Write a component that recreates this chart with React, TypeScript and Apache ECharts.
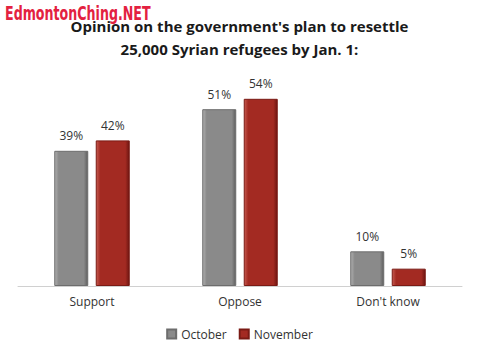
import React, { useEffect, useRef } from "react";
import * as echarts from "echarts";

const categories = ["Support", "Oppose", "Don't know"];
const october = [39, 51, 10];
const november = [42, 54, 5];
const seriesNames = ["October", "November"];
const titleLines = ["Opinion on the government's plan to resettle", "25,000 Syrian refugees by Jan. 1:"];
const watermark = "EdmontonChing.NET";

function bevel(base: string, light: string, dark: string) {
  return new echarts.graphic.LinearGradient(0, 0, 1, 0, [
    { offset: 0, color: light },
    { offset: 0.12, color: base },
    { offset: 0.88, color: base },
    { offset: 1, color: dark },
  ]);
}

export default function App() {
  const ref = useRef<HTMLDivElement>(null);
  useEffect(() => {
    if (!ref.current) return;
    const chart = echarts.init(ref.current, undefined, { renderer: "svg" });
    const font = "'Open Sans', 'Noto Sans', sans-serif";
    chart.setOption({
      animation: false,
      backgroundColor: "#ffffff",
      title: {
        text: titleLines.join("\n"),
        left: "center",
        top: 9,
        textStyle: { fontFamily: font, fontWeight: "bold", fontSize: 15, color: "#1a1a1a", lineHeight: 23 },
      },
      graphic: [
        {
          type: "text",
          x: 5,
          y: 4,
          scaleX: 0.74,
          style: {
            text: watermark,
            fontFamily: "'DejaVu Sans Condensed', 'DejaVu Sans', sans-serif",
            fontWeight: "bold",
            fontSize: 19,
            fill: "#e3213f",
          },
        },
      ],
      legend: {
        bottom: 15,
        left: "center",
        itemWidth: 9,
        itemHeight: 9,
        itemGap: 12,
        icon: "rect",
        textStyle: { fontFamily: font, fontSize: 12, color: "#333" },
        data: seriesNames,
      },
      grid: { left: 18, right: 17, top: 78, bottom: 74 },
      xAxis: {
        type: "category",
        data: categories,
        axisLine: { lineStyle: { color: "#d0d0d0" } },
        axisTick: { show: false },
        axisLabel: { fontFamily: font, fontSize: 12, color: "#333", margin: 9 },
      },
      yAxis: {
        type: "value",
        min: 0,
        max: 60,
        show: false,
        splitLine: { show: false },
      },
      series: [
        {
          name: seriesNames[0],
          type: "bar",
          data: october,
          barWidth: 34,
          barGap: "22%",
          itemStyle: {
            color: bevel("#8a8a8a", "#b0b0b0", "#5e5e5e"),
            borderColor: "#6d6d6d",
            borderWidth: 1,
          },
          label: {
            show: true,
            position: "top",
            distance: 9,
            formatter: "{c}%",
            fontFamily: font,
            fontSize: 12,
            color: "#333",
          },
        },
        {
          name: seriesNames[1],
          type: "bar",
          data: november,
          barWidth: 34,
          itemStyle: {
            color: bevel("#a32a22", "#c65a50", "#6e1510"),
            borderColor: "#7a1a14",
            borderWidth: 1,
          },
          label: {
            show: true,
            position: "top",
            distance: 9,
            formatter: "{c}%",
            fontFamily: font,
            fontSize: 12,
            color: "#333",
          },
        },
      ],
      color: ["#8a8a8a", "#a32a22"],
    });
    return () => chart.dispose();
  }, []);
  return <div ref={ref} style={{ width: 479, height: 360, position: "absolute", left: 0, top: 0 }} />;
}
